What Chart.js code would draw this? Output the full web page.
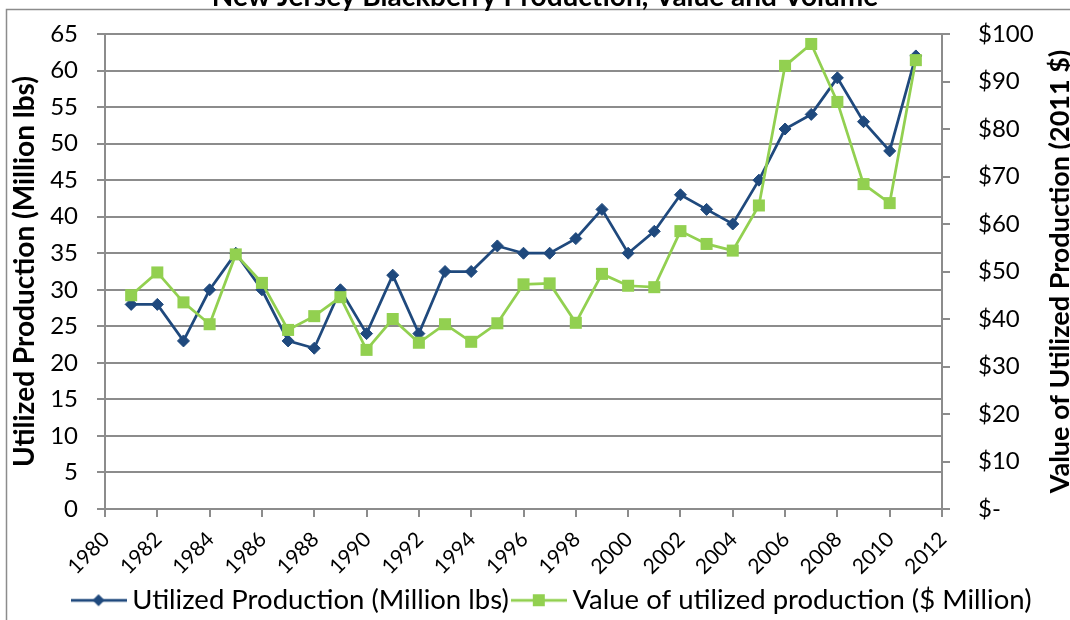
<!DOCTYPE html>
<html>
<head>
<meta charset="utf-8">
<script src="https://cdn.jsdelivr.net/npm/chart.js@4/dist/chart.umd.min.js"></script>
<style>
  html, body { margin: 0; padding: 0; background: #fff; overflow: hidden; }
  canvas { display: block; }
</style>
</head>
<body>
<canvas id="chart" width="1070" height="620"></canvas>
<script>
// New Jersey blackberry production, 1981-2011
const years = [1981, 1982, 1983, 1984, 1985, 1986, 1987, 1988, 1989, 1990,
               1991, 1992, 1993, 1994, 1995, 1996, 1997, 1998, 1999, 2000,
               2001, 2002, 2003, 2004, 2005, 2006, 2007, 2008, 2009, 2010, 2011];
// Utilized production, million lbs (left axis)
const production = [28, 28, 23, 30, 35, 30, 23, 22, 30, 24,
                    32, 24, 32.5, 32.5, 36, 35, 35, 37, 41, 35,
                    38, 43, 41, 39, 45, 52, 54, 59, 53, 49, 62];
// Value of utilized production, $ million in 2011 dollars (right axis)
const value = [45.0, 49.8, 43.5, 38.9, 53.6, 47.6, 37.7, 40.6, 44.6, 33.5,
               40.0, 35.0, 38.9, 35.2, 39.1, 47.3, 47.5, 39.2, 49.5, 47.0,
               46.7, 58.5, 55.8, 54.4, 63.9, 93.3, 97.9, 85.7, 68.4, 64.4, 94.5];

const seriesNames = ['Utilized Production (Million lbs)', 'Value of utilized production ($ Million)'];
const chartTitle = 'New Jersey Blackberry Production, Value and Volume';
const leftTitle = 'Utilized Production (Million lbs)';
const rightTitle = 'Value of Utilized Production (2011 $)';
const yearRange = [1980, 2012];
const lbsRange = [0, 65];
const dollarRange = [0, 100];

const BLUE = '#1F497D';
const GREEN = '#92D050';
const GRID = '#8C8C8C';
const FONT = 'Lato';

Chart.defaults.font.family = FONT;
Chart.defaults.color = '#000';

// legend glyph: short line with the series marker in its middle
function legendGlyph(color, style) {
  const c = document.createElement('canvas');
  c.width = 56; c.height = 16;
  const g = c.getContext('2d');
  g.strokeStyle = color; g.lineWidth = 2.75;
  g.beginPath(); g.moveTo(0, 8); g.lineTo(56, 8); g.stroke();
  g.fillStyle = color;
  g.beginPath();
  if (style === 'rectRot') {
    g.moveTo(28 - 6, 8); g.lineTo(28, 2); g.lineTo(28 + 6, 8); g.lineTo(28, 14);
  } else {
    g.rect(28 - 6, 2, 12, 12);
  }
  g.closePath(); g.fill();
  return c;
}

const pairs = (xs, ys) => xs.map((x, i) => ({x, y: ys[i]}));

// fixed axis box size; the tick-label overhang is already covered by the layout padding
function fixWidth(w) {
  return scale => {
    scale.width = w;
    scale.paddingTop = 0;
    scale.paddingBottom = 0;
  };
}

// white background, outer frame and the chart heading
const frame = {
  id: 'frame',
  beforeDraw(chart) {
    const {ctx, width, height} = chart;
    ctx.save();
    ctx.fillStyle = '#fff';
    ctx.fillRect(0, 0, width, height);
    ctx.strokeStyle = GRID;
    ctx.lineWidth = 1.5;
    ctx.strokeRect(6.5, 9.5, width + 10, height + 10);
    ctx.restore();
  },
  afterDraw(chart) {
    const {ctx, width} = chart;
    ctx.save();
    ctx.font = 'bold 28px ' + FONT;
    ctx.fillStyle = '#000';
    ctx.textAlign = 'center';
    ctx.textBaseline = 'alphabetic';
    ctx.fillText(chartTitle, width / 2 + 10, 6);
    ctx.restore();
  }
};

// right-hand axis title, reading bottom to top like the left one
const rightAxisTitle = {
  id: 'rightAxisTitle',
  afterDraw(chart) {
    const {ctx, chartArea} = chart;
    const s = chart.scales.y1;
    ctx.save();
    ctx.font = 'bold 27px ' + FONT;
    ctx.fillStyle = '#000';
    ctx.textAlign = 'center';
    ctx.textBaseline = 'middle';
    ctx.translate(s.right - 10, (chartArea.top + chartArea.bottom) / 2);
    ctx.rotate(-Math.PI / 2);
    ctx.fillText(rightTitle, 0, 0);
    ctx.restore();
  }
};

new Chart(document.getElementById('chart'), {
  type: 'line',
  data: {
    datasets: [
      {
        label: seriesNames[0],
        data: pairs(years, production),
        yAxisID: 'y',
        borderColor: BLUE,
        backgroundColor: BLUE,
        borderWidth: 2.75,
        pointStyle: 'rectRot',
        pointRadius: 6,
        pointBorderWidth: 1,
        pointBackgroundColor: BLUE,
        pointBorderColor: BLUE,
        tension: 0,
        order: 1
      },
      {
        label: seriesNames[1],
        data: pairs(years, value),
        yAxisID: 'y1',
        borderColor: GREEN,
        backgroundColor: GREEN,
        borderWidth: 2.75,
        pointStyle: 'rect',
        pointRadius: 8.5,
        pointBorderWidth: 0,
        pointBackgroundColor: GREEN,
        pointBorderColor: GREEN,
        tension: 0,
        order: 0
      }
    ]
  },
  options: {
    responsive: false,
    animation: false,
    layout: { padding: { left: 40, right: 0, top: 34, bottom: -4 } },
    plugins: {
      title: { display: false },
      legend: {
        position: 'bottom',
        labels: {
          font: { size: 27.5 },
          color: '#000',
          usePointStyle: true,
          pointStyleWidth: 40,
          padding: 10,
          generateLabels(chart) {
            return chart.data.datasets.map((ds, i) => ({
              text: ds.label,
              datasetIndex: i,
              pointStyle: legendGlyph(ds.borderColor, ds.pointStyle),
              fillStyle: ds.borderColor,
              strokeStyle: ds.borderColor,
              lineWidth: 0,
              fontColor: '#000',
              hidden: false
            }));
          }
        }
      },
      tooltip: { enabled: false }
    },
    scales: {
      x: {
        type: 'linear',
        min: yearRange[0],
        max: yearRange[1],
        afterFit(scale) { scale.height = 67.5; },
        border: { color: GRID, width: 2 },
        grid: { drawOnChartArea: false, drawTicks: true, tickLength: 8, color: GRID, lineWidth: 2 },
        ticks: {
          stepSize: 2,
          minRotation: 45,
          maxRotation: 45,
          padding: 10,
          labelOffset: 1,
          font: { size: 21 },
          color: '#000',
          callback: v => String(v)
        }
      },
      y: {
        position: 'left',
        min: lbsRange[0],
        max: lbsRange[1],
        afterFit: fixWidth(65),
        border: { color: GRID, width: 2 },
        grid: { color: GRID, lineWidth: 2, tickLength: 8, drawTicks: true },
        ticks: { stepSize: 5, padding: 19, font: { size: 24 }, color: '#000' },
        title: {
          display: true,
          text: leftTitle,
          font: { size: 28, weight: 'bold' },
          color: '#000',
          padding: { top: -32, bottom: 0 }
        }
      },
      y1: {
        position: 'right',
        min: dollarRange[0],
        max: dollarRange[1],
        afterFit: fixWidth(128),
        border: { color: GRID, width: 2 },
        grid: { drawOnChartArea: false, drawTicks: true, tickLength: 8, color: GRID, lineWidth: 2 },
        ticks: {
          stepSize: 10,
          padding: 28,
          font: { size: 24 },
          color: '#000',
          callback: v => (v === 0 ? '$-' : '$' + v)
        }
      }
    }
  },
  plugins: [frame, rightAxisTitle]
});
</script>
</body>
</html>
